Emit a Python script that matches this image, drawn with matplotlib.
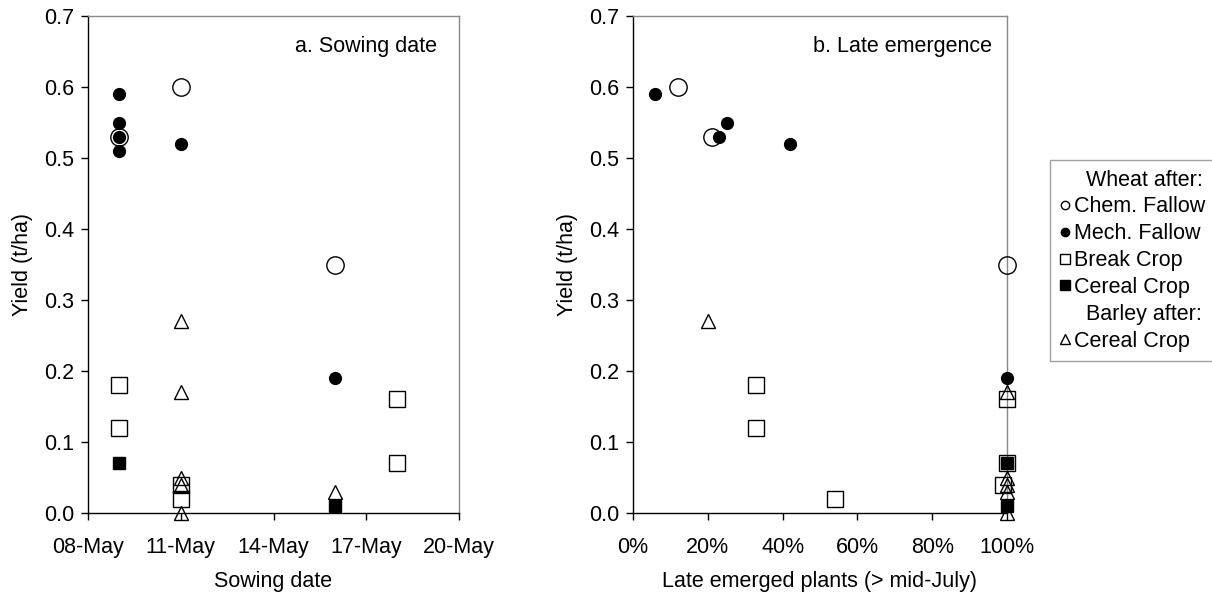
import numpy as np
import matplotlib
matplotlib.use('Agg')
import matplotlib.pyplot as plt
import matplotlib.dates as mdates
from matplotlib.lines import Line2D
from matplotlib.ticker import PercentFormatter, FormatStrFormatter

plt.rcParams['font.family'] = ['Liberation Sans', 'DejaVu Sans']
plt.rcParams['font.size'] = 15.5

# a. sowing date (x) vs yield (t/ha)
sow_chem = np.array(['2003-05-09', '2003-05-11', '2003-05-16'], dtype='datetime64[D]')
yld_sow_chem = [0.53, 0.60, 0.35]
sow_mech = np.array(['2003-05-09', '2003-05-09', '2003-05-09', '2003-05-09', '2003-05-11', '2003-05-16'], dtype='datetime64[D]')
yld_sow_mech = [0.59, 0.55, 0.53, 0.51, 0.52, 0.19]
sow_break = np.array(['2003-05-09', '2003-05-09', '2003-05-11', '2003-05-11', '2003-05-18', '2003-05-18'], dtype='datetime64[D]')
yld_sow_break = [0.18, 0.12, 0.04, 0.02, 0.16, 0.07]
sow_cereal = np.array(['2003-05-09', '2003-05-16'], dtype='datetime64[D]')
yld_sow_cereal = [0.07, 0.01]
sow_barley = np.array(['2003-05-11', '2003-05-11', '2003-05-11', '2003-05-11', '2003-05-11', '2003-05-16'], dtype='datetime64[D]')
yld_sow_barley = [0.27, 0.17, 0.05, 0.04, 0.00, 0.03]

date_ticks = np.array(['2003-05-08', '2003-05-11', '2003-05-14', '2003-05-17', '2003-05-20'], dtype='datetime64[D]')

# b. fraction of late emerged plants vs yield
late_chem = [0.12, 0.21, 1.0]
yld_late_chem = [0.60, 0.53, 0.35]
late_mech = [0.06, 0.23, 0.25, 0.42, 1.0]
yld_late_mech = [0.59, 0.53, 0.55, 0.52, 0.19]
late_break = [0.33, 0.33, 0.54, 1.0, 1.0, 0.99]
yld_late_break = [0.18, 0.12, 0.02, 0.16, 0.07, 0.04]
late_cereal = [1.0, 1.0]
yld_late_cereal = [0.07, 0.01]
late_barley = [0.20, 1.0, 1.0, 1.0, 1.0, 1.0]
yld_late_barley = [0.27, 0.17, 0.05, 0.04, 0.03, 0.00]

labels = ['Chem. Fallow', 'Mech. Fallow', 'Break Crop', 'Cereal Crop', 'Cereal Crop']

styles = [dict(marker='o', ms=12.5, mfc='none', mec='black', mew=1.0),
          dict(marker='o', ms=8.5, mfc='black', mec='black', mew=1.0),
          dict(marker='s', ms=12, mfc='none', mec='black', mew=1.0),
          dict(marker='s', ms=8.5, mfc='black', mec='black', mew=1.0),
          dict(marker='^', ms=10.5, mfc='none', mec='black', mew=1.0)]

fig = plt.figure(figsize=(12.12, 6.01), dpi=100)
ax1 = fig.add_axes([88/1212, 1-513/601, 371/1212, 497/601])
ax2 = fig.add_axes([633/1212, 1-513/601, 374/1212, 497/601])


def style_axes(ax):
    ax.spines['top'].set_color('#888888')
    ax.spines['right'].set_color('#888888')
    for s in ax.spines.values():
        s.set_linewidth(1.0)
    ax.tick_params(direction='out', length=5, width=1, top=False, right=False, pad=5)
    ax.tick_params(axis='x', pad=12)
    ax.set_ylim(0, 0.7)
    ax.set_yticks(np.arange(0, 0.71, 0.1))
    ax.yaxis.set_major_formatter(FormatStrFormatter('%.1f'))
    ax.set_ylabel('Yield (t/ha)', labelpad=8)


series_a = [(sow_chem, yld_sow_chem), (sow_mech, yld_sow_mech), (sow_break, yld_sow_break),
            (sow_cereal, yld_sow_cereal), (sow_barley, yld_sow_barley)]
for (x, y), st in zip(series_a, styles):
    ax1.plot(x, y, ls='none', clip_on=False, zorder=3, **st)
style_axes(ax1)
ax1.set_xlim(date_ticks[0], date_ticks[-1])
ax1.set_xticks(date_ticks)
ax1.xaxis.set_major_formatter(mdates.DateFormatter('%d-%b'))
ax1.set_xlabel('Sowing date', labelpad=10)
ax1.text(0.94, 0.938, 'a. Sowing date', transform=ax1.transAxes, ha='right', va='center')

series_b = [(late_chem, yld_late_chem), (late_mech, yld_late_mech), (late_break, yld_late_break),
            (late_cereal, yld_late_cereal), (late_barley, yld_late_barley)]
for (x, y), st in zip(series_b, styles):
    ax2.plot(x, y, ls='none', clip_on=False, zorder=3, **st)
style_axes(ax2)
ax2.set_xlim(0, 1.0)
ax2.set_xticks(np.arange(0, 1.01, 0.2))
ax2.xaxis.set_major_formatter(PercentFormatter(1.0, decimals=0))
ax2.set_xlabel('Late emerged plants (> mid-July)', labelpad=10)
ax2.text(0.96, 0.938, 'b. Late emergence', transform=ax2.transAxes, ha='right', va='center')

# legend with header rows
blank = Line2D([], [], ls='none', marker='none')
leg_sizes = [6, 6, 7.5, 6.5, 7.5]
handles = [blank]
for st, ms in zip(styles, leg_sizes):
    h = Line2D([], [], ls='none', **dict(st, ms=ms))
    handles.append(h)
handles.insert(5, blank)
leg_labels = ['  Wheat after:'] + labels[:4] + ['  Barley after:', labels[4]]
leg = fig.legend(handles, leg_labels, loc='upper left', bbox_to_anchor=(1050/1212, 1-160/601),
                 frameon=True, fancybox=False, edgecolor='#888888', handlelength=0.45,
                 handletextpad=0.2, borderpad=0.45, labelspacing=0.27, borderaxespad=0,
                 fontsize=15.5)
leg.get_frame().set_linewidth(1.0)

fig.savefig('out.png', dpi=100)
